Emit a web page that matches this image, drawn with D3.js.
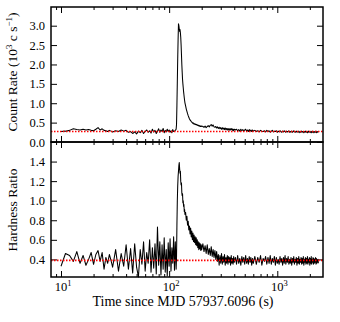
<!DOCTYPE html>
<html><head><meta charset="utf-8">
<script src="https://cdn.jsdelivr.net/npm/d3@7"></script>
<style>
body{margin:0;background:#fff}
svg{display:block}
text{font-family:"Liberation Serif","Times New Roman",serif;fill:#000}
</style>
</head><body>
<svg id="c" width="340" height="322"></svg>
<script>
// ---- data (time since MJD 57937.6096, s) ----
const time = [
 10,11,12,13,14,15,16,17,18,19,20,21,22,23,24,25,26,27,28,29,30,
 32,34,36,38,40,42,44,46,48,50,52,54,56,58,60,62,64,66,68,70,72,74,76,78,80,82,84,86,88,90,92,94,96,98,100,102,104,106,108,110,112,114,
 116,117,118,119,120,121,122,123,124,125,126,127,128,129,130,131,132,133,134,135,136,137,138,139,140,
 142,144,146,148,150,152,154,156,158,160,162,164,166,168,170,172,174,176,178,180,182,184,186,188,190,192,194,196,198,200,
 205,210,215,220,225,230,235,240,245,250,255,260,265,270,275,280,285,290,295,300,305,310,315,320,325,330,335,340,345,350,355,360,365,370,375,380,385,390,395,400,
 410,420,430,440,450,460,470,480,490,500,510,520,530,540,550,560,570,580,590,600,
 620,640,660,680,700,720,740,760,780,800,820,840,860,880,900,920,940,960,980,1000,
 1020,1040,1060,1080,1100,1120,1140,1160,1180,1200,1220,1240,1260,1280,1300,1320,1340,1360,1380,1400,
 1420,1440,1460,1480,1500,1520,1540,1560,1580,1600,1620,1640,1660,1680,1700,1720,1740,1760,1780,1800,
 1820,1840,1860,1880,1900,1920,1940,1960,1980,2000,2020,2040,2060,2080,2100,2120,2140,2160,2180,2200,
 2220,2240,2260,2280,2300,2320,2340,2360,2380,2400
];
// count rate in 10^3 c/s
const countRate = [
 0.27,0.28,0.30,0.34,0.32,0.31,0.33,0.31,0.32,0.30,0.29,0.33,0.37,0.31,0.34,0.30,0.29,0.27,0.30,0.28,0.26,
 0.29,0.27,0.31,0.28,0.30,0.25,0.27,0.22,0.26,0.21,0.28,0.24,0.30,0.22,0.27,0.31,0.25,0.29,0.23,0.33,
 0.26,0.30,0.22,0.28,0.34,0.25,0.31,0.27,0.35,0.24,0.30,0.26,0.33,0.27,0.31,0.25,0.29,0.24,0.32,0.27,0.28,0.30,
 0.33,0.45,0.95,1.55,2.15,2.65,3.05,3.00,2.92,2.85,2.90,2.82,2.70,2.50,2.25,2.00,1.80,1.62,1.50,1.40,1.30,1.22,1.14,1.07,1.01,
 0.93,0.85,0.79,0.73,0.68,0.64,0.60,0.57,0.55,0.53,0.51,0.50,0.48,0.49,0.46,0.47,0.45,0.46,0.44,0.45,0.43,0.44,0.42,0.43,0.41,0.42,0.40,0.41,0.40,0.41,
 0.40,0.38,0.41,0.37,0.40,0.42,0.39,0.43,0.45,0.41,0.44,0.39,0.38,0.40,0.36,0.39,0.35,0.38,0.34,0.37,
 0.33,0.37,0.33,0.36,0.32,0.36,0.32,0.35,0.31,0.35,0.31,0.34,0.30,0.34,0.32,0.35,0.30,0.33,0.29,0.33,
 0.31,0.33,0.29,0.32,0.28,0.33,0.29,0.32,0.28,0.31,0.33,0.28,0.31,0.27,0.32,0.28,0.31,0.27,0.31,0.28,
 0.30,0.27,0.29,0.26,0.30,0.28,0.27,0.29,0.26,0.30,0.27,0.29,0.25,0.28,0.30,0.26,0.28,0.27,0.29,0.25,
 0.28,0.26,0.29,0.27,0.25,0.28,0.26,0.29,0.27,0.25,0.28,0.26,0.27,0.29,0.25,0.27,0.26,0.28,0.25,0.27,
 0.29,0.26,0.27,0.25,0.28,0.26,0.27,0.25,0.28,0.26,0.24,0.27,0.26,0.28,0.25,0.27,0.26,0.24,0.27,0.26,
 0.28,0.25,0.26,0.27,0.24,0.26,0.28,0.25,0.27,0.26,0.25,0.27,0.24,0.26,0.28,0.25,0.26,0.27,0.24,0.26,
 0.27,0.25,0.26,0.28,0.24,0.26,0.27,0.25,0.26,0.27
];
const hardness = [
 0.33,0.46,0.44,0.38,0.48,0.36,0.44,0.34,0.40,0.47,0.35,0.45,0.49,0.38,0.47,0.30,0.42,0.36,0.45,0.39,0.32,
 0.50,0.28,0.46,0.33,0.55,0.30,0.51,0.26,0.56,0.32,0.22,0.50,0.35,0.58,0.28,0.47,0.36,0.60,0.27,0.52,
 0.31,0.56,0.25,0.73,0.34,0.58,0.24,0.55,0.30,0.62,0.27,0.50,0.23,0.57,0.33,0.61,0.28,0.52,0.36,0.63,0.29,0.58,
 0.30,0.42,0.75,1.00,1.15,1.25,1.30,1.36,1.39,1.33,1.28,1.30,1.20,1.16,1.18,1.08,1.05,1.07,0.98,1.00,0.94,0.96,0.89,0.91,0.86,
 0.88,0.80,0.84,0.75,0.79,0.70,0.74,0.66,0.72,0.63,0.69,0.60,0.67,0.58,0.65,0.57,0.63,0.55,0.62,0.54,0.60,0.52,0.58,0.50,0.57,0.51,0.56,0.49,0.55,0.50,
 0.56,0.48,0.54,0.46,0.55,0.45,0.51,0.44,0.53,0.43,0.50,0.42,0.49,0.40,0.48,0.38,0.45,0.34,0.44,0.36,
 0.46,0.35,0.43,0.37,0.45,0.34,0.42,0.36,0.44,0.35,0.43,0.37,0.42,0.34,0.44,0.36,0.41,0.35,0.43,0.37,
 0.42,0.35,0.44,0.36,0.41,0.34,0.43,0.37,0.42,0.35,0.44,0.36,0.41,0.35,0.43,0.37,0.42,0.34,0.41,0.36,
 0.43,0.35,0.42,0.37,0.44,0.34,0.41,0.38,0.43,0.35,0.42,0.36,0.44,0.35,0.41,0.37,0.43,0.34,0.42,0.36,
 0.40,0.35,0.43,0.37,0.41,0.34,0.42,0.36,0.44,0.35,0.41,0.37,0.43,0.35,0.40,0.36,0.42,0.34,0.41,0.37,
 0.43,0.35,0.40,0.37,0.42,0.34,0.41,0.36,0.43,0.35,0.40,0.37,0.42,0.35,0.41,0.36,0.43,0.34,0.40,0.37,
 0.42,0.35,0.41,0.36,0.43,0.35,0.40,0.37,0.42,0.34,0.41,0.36,0.43,0.35,0.40,0.37,0.42,0.35,0.41,0.36,
 0.40,0.37,0.42,0.35,0.41,0.36,0.39,0.37,0.40,0.36
];
const rateBackground = 0.27;
const hardnessBackground = 0.39;
const rateTicks = [0.0,0.5,1.0,1.5,2.0,2.5,3.0];
const hardnessTicks = [0.4,0.6,0.8,1.0,1.2,1.4];
const xMajorTicks = [10,100,1000];
const xMajorExp = ["1","2","3"];
const xMinorTicks = [9,20,30,40,50,60,70,80,90,200,300,400,500,600,700,800,900,2000];

// ---- layout ----
const svg = d3.select("#c");
const L = 51, R = 323, T1 = 7, B1 = 142, T2 = 142, B2 = 277;
const x = d3.scaleLog().domain([8.08, 2647]).range([L, R]);
const y1 = d3.scaleLinear().domain([0, 3.482]).range([B1, T1]);
const y2 = d3.scaleLinear().domain([0.22, 1.6]).range([B2, T2]);
const MAJ = 6, MIN = 3;

function strip(g){ g.select(".domain").remove(); g.selectAll("line").attr("stroke","#000").attr("stroke-width",1); }

function panel(y, top, bottom, yTicks, vals, bg){
  svg.append("g").attr("transform",`translate(0,${top})`)
    .call(d3.axisTop(x).tickValues(xMajorTicks).tickSize(-MAJ).tickFormat("")).call(strip);
  svg.append("g").attr("transform",`translate(0,${top})`)
    .call(d3.axisTop(x).tickValues(xMinorTicks).tickSize(-MIN).tickFormat("")).call(strip);
  svg.append("g").attr("transform",`translate(0,${bottom})`)
    .call(d3.axisBottom(x).tickValues(xMajorTicks).tickSize(-MAJ).tickFormat("")).call(strip);
  svg.append("g").attr("transform",`translate(0,${bottom})`)
    .call(d3.axisBottom(x).tickValues(xMinorTicks).tickSize(-MIN).tickFormat("")).call(strip);
  const gl = svg.append("g").attr("transform",`translate(${L},0)`)
    .call(d3.axisLeft(y).tickValues(yTicks).tickSize(-MAJ).tickPadding(6).tickFormat(d3.format(".1f")));
  strip(gl);
  gl.selectAll("text").attr("font-family",'"Liberation Serif",serif').attr("font-size",12.5).attr("fill","#000");
  svg.append("g").attr("transform",`translate(${R},0)`)
    .call(d3.axisRight(y).tickValues(yTicks).tickSize(-MAJ).tickFormat("")).call(strip);

  const line = d3.line().defined(d=>d[1]!=null).x(d=>x(d[0])).y(d=>y(d[1]));
  svg.append("path").datum(time.map((t,i)=>[t,vals[i]]))
    .attr("d",line).attr("fill","none").attr("stroke","#000").attr("stroke-width",1.05).attr("stroke-linejoin","round");
  svg.append("line").attr("x1",L).attr("x2",R).attr("y1",y(bg)).attr("y2",y(bg))
    .attr("stroke","#ff0000").attr("stroke-width",1.6).attr("stroke-dasharray","1.5,1.5");
  svg.append("rect").attr("x",L).attr("y",top).attr("width",R-L).attr("height",bottom-top)
    .attr("fill","none").attr("stroke","#000").attr("stroke-width",1.5);
}
panel(y1, T1, B1, rateTicks, countRate, rateBackground);
panel(y2, T2, B2, hardnessTicks, hardness, hardnessBackground);

xMajorTicks.forEach((v,i)=>{
  const t = svg.append("text").attr("x",x(v)+2).attr("y",291).attr("text-anchor","middle").attr("font-size",12.5);
  t.append("tspan").text("10");
  t.append("tspan").attr("dy",-5).attr("font-size",8.5).text(xMajorExp[i]);
});

svg.append("text").attr("x",183).attr("y",306).attr("text-anchor","middle").attr("font-size",14)
  .text("Time since MJD 57937.6096 (s)");
const yl1 = svg.append("text").attr("transform",`translate(17,72) rotate(-90)`).attr("text-anchor","middle").attr("font-size",13.5);
yl1.append("tspan").text("Count Rate (10");
yl1.append("tspan").attr("dy",-5).attr("font-size",9).text("3");
yl1.append("tspan").attr("dy",5).text(" c s");
yl1.append("tspan").attr("dy",-5).attr("font-size",9).text("\u22121");
yl1.append("tspan").attr("dy",5).text(")");
svg.append("text").attr("transform",`translate(17,210) rotate(-90)`).attr("text-anchor","middle").attr("font-size",13.5)
  .text("Hardness Ratio");
</script>
</body></html>
